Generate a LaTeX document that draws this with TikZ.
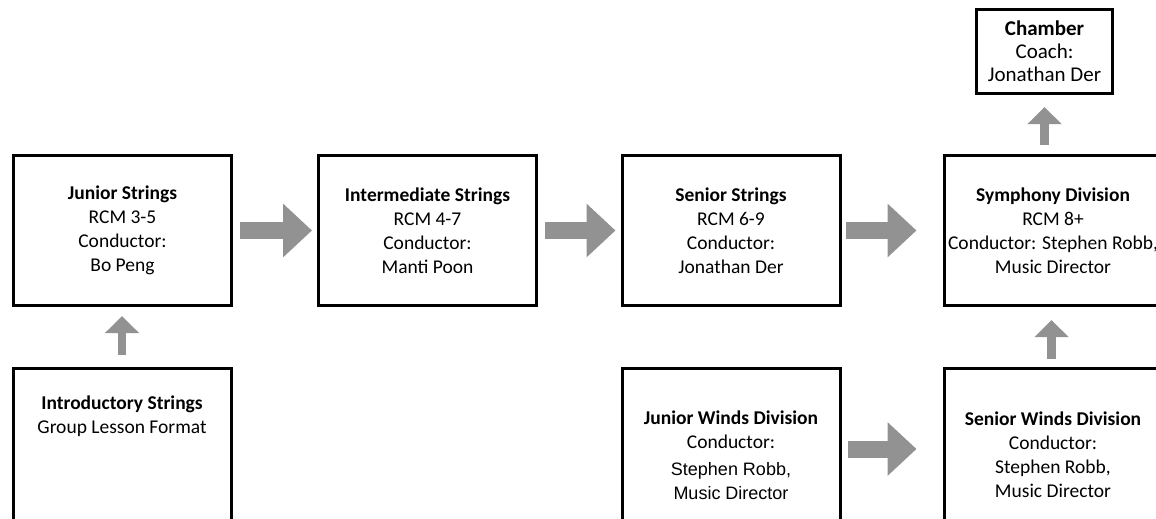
\documentclass[tikz,border=0pt]{standalone}
\usepackage{fontspec}
\setmainfont{Carlito}
\newfontfamily\arialfont{Liberation Sans}
\usetikzlibrary{arrows.meta}
\usetikzlibrary{positioning}
\definecolor{arrowgray}{RGB}{146,146,146}

\begin{document}
\begin{tikzpicture}[x=1pt,y=-1pt,
  every node/.style={align=center,font=\fontsize{19.5}{24}\selectfont},
  unit/.style={draw,line width=3pt,minimum width=218pt,minimum height=150pt},
  flow/.style={arrowgray,line width=17pt,-{Triangle[length=29pt,width=52pt]}},
  rise/.style={arrowgray,line width=8.5pt,-{Triangle[length=17pt,width=33pt]}}]
  \useasboundingbox (0,0) rectangle (1156,519);

  % strings row
  \node[unit] (junior) at (122.5,230.5) {\textbf{Junior Strings}\\RCM 3-5\\Conductor:\\Bo Peng};
  \node[unit] (inter) at (427.5,230.5) {\textbf{Intermediate Strings}\\RCM 4-7\\Conductor:\\Manti Poon};
  \node[unit] (senior) at (731,230.5) {\textbf{Senior Strings}\\RCM 6-9\\Conductor:\\Jonathan Der};
  \node[unit] (symph) at (1053,230.5) {\textbf{Symphony Division}\\RCM 8+\\Conductor: Stephen Robb,\\Music Director};
  \node[unit,minimum width=136pt,minimum height=84pt,font=\fontsize{21}{23}\selectfont] (chamber) at (1044.5,51.5) {\textbf{Chamber}\\Coach:\\Jonathan Der};

  % bottom row
  \node[unit,minimum height=173pt] (intro) at (122,455) {};
  \node[below=29pt of intro.north,inner sep=0pt] (introtext) {\textbf{Introductory Strings}\\Group Lesson Format};
  \node[unit,minimum height=173pt] (jwinds) at (731,455) {\textbf{Junior Winds Division}\\Conductor:\\[3pt]{\arialfont\fontsize{18}{22}\selectfont Stephen Robb,}\\{\arialfont\fontsize{18}{22}\selectfont Music Director}};
  \node[unit,minimum height=173pt] (swinds) at (1053,455) {\textbf{Senior Winds Division}\\Conductor:\\Stephen Robb,\\Music Director};

  \draw[flow,shorten <=7pt,shorten >=5pt](junior)--(inter);
  \draw[flow,shorten <=7pt,shorten >=5pt](inter)--(senior);
  \draw[flow,shorten <=4pt,shorten >=26pt](senior)--(symph);
  \draw[flow,shorten <=6pt,shorten >=26pt]([yshift=6pt]jwinds.east)--([yshift=6pt]swinds.west);
  \draw[rise,shorten <=12pt,shorten >=9pt](intro.north)--(intro.north |- junior.south);
  \draw[rise,shorten <=8pt,shorten >=13pt]([xshift=-1.5pt]swinds.north)--([xshift=-1.5pt]symph.south);
  \draw[rise,shorten <=9pt,shorten >=12pt](chamber.south |- symph.north)--(chamber.south);
  \end{tikzpicture}
\end{document}
